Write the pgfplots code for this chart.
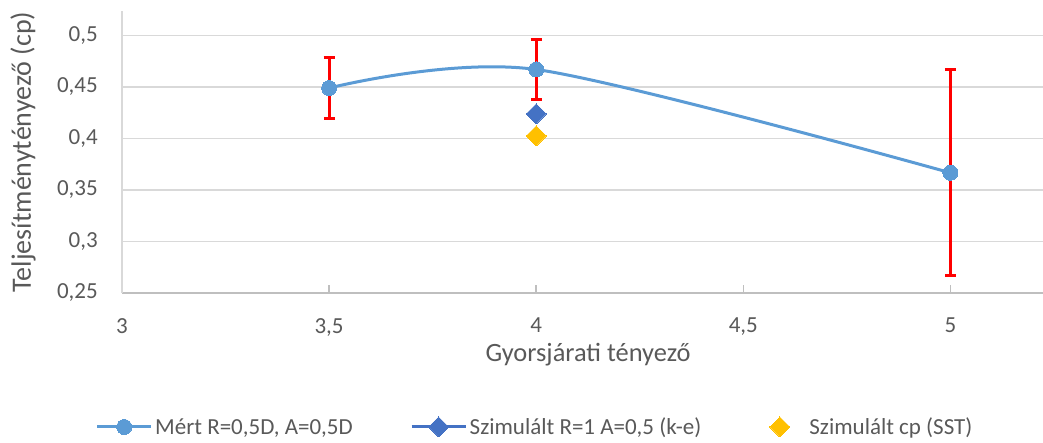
\documentclass[border=0pt]{standalone}
\usepackage{pgfplots}
\pgfplotsset{compat=1.18}
\usepackage{fontspec}
\setmainfont{Carlito}
\definecolor{txt}{HTML}{595959}
\definecolor{gridc}{HTML}{D9D9D9}
\definecolor{axl}{HTML}{BFBFBF}
\definecolor{s1}{HTML}{5B9BD5}
\definecolor{s2}{HTML}{4472C4}
\definecolor{s3}{HTML}{FFC000}
\pgfplotsset{mklegend/.style={legend image code/.code={\path[draw=none,fill=none] (0pt,0pt) (54pt,0pt); \draw[##1] plot coordinates {(27pt,0pt)};}}}
\begin{document}
\begin{tikzpicture}
\path[use as bounding box] (-122pt,-150pt) rectangle (921pt,293pt);
\begin{axis}[
  at={(0pt,0pt)}, anchor=south west,
  scale only axis, width=932pt, height=282pt,
  xmin=3, xmax=5.25, ymin=0.25, ymax=0.5238,
  xtick={3,3.5,4,4.5,5},
  ytick={0.25,0.3,0.35,0.4,0.45,0.5},
  /pgf/number format/.cd, use comma, assume math mode=true, fixed, precision=2,
  /pgfplots/.cd,
  axis x line*=bottom, axis y line*=left,
  x axis line style={axl, line width=2pt},
  y axis line style={gridc, line width=1.8pt},
  ymajorgrids, grid style={gridc, line width=1.3pt},
  tick align=inside, major tick length=8pt,
  xtick style={axl, line width=1.5pt},
  ytick style={draw=none},
  ticklabel style={font=\fontsize{23}{27}\selectfont, text=txt},
  xticklabel style={anchor=north, inner sep=0pt, yshift=-25pt},
  yticklabel style={anchor=east, inner sep=0pt, xshift=-24pt},
  xlabel={Gyorsjárati tényező},
  xlabel style={font=\fontsize{26.4}{31}\selectfont, text=txt, at={(axis description cs:0.5,0)}, anchor=base, inner sep=0pt, yshift=-69pt},
  ylabel={Teljesítménytényező (cp)},
  ylabel style={font=\fontsize{28}{33}\selectfont, text=txt, at={(axis description cs:-0.1062,0.5)}, anchor=center, inner sep=0pt},
  legend columns=3,
  legend cell align=left,
  legend image code/.code={\draw[mark repeat=2,mark phase=2,#1] plot coordinates {(0pt,0pt) (27pt,0pt) (54pt,0pt)};},
  legend style={draw=none, fill=none, inner sep=0pt, font=\fontsize{23}{27}\selectfont, text=txt,
    nodes={inner sep=2.5pt},
    at={(axis description cs:-0.0284,-0.475)}, anchor=west,
    /tikz/column 2/.style={column sep=55pt},
    /tikz/column 4/.style={column sep=49pt}},
]
\addplot[s1, line width=3pt, smooth, mark=*, mark size=7.5pt, mark options={fill=s1, draw=s1, line width=0pt},
  error bars/.cd, y dir=both, y explicit,
  error bar style={red, line width=3pt},
  error mark options={rotate=90, red, line width=3pt, mark size=5.5pt}]
  coordinates {
  (3.5,0.449) +- (0,0.030)
  (4,0.467) +- (0,0.0295)
  (5,0.3667) +- (0,0.100)
};
\addlegendentry{Mért R=0,5D, A=0,5D}
\addplot[s2, line width=3pt, mark=square*, mark size=7.07pt, mark options={rotate=45, fill=s2, draw=s2, line width=0pt}]
  coordinates {(4,0.424)};
\addlegendentry{Szimulált R=1 A=0,5 (k-e)}
\addplot[only marks, s3, mark=square*, mark size=7.07pt, mark options={rotate=45, fill=s3, draw=s3, line width=0pt}, mklegend]
  coordinates {(4,0.4026)};
\addlegendentry{Szimulált cp (SST)}
\end{axis}
\end{tikzpicture}
\end{document}
